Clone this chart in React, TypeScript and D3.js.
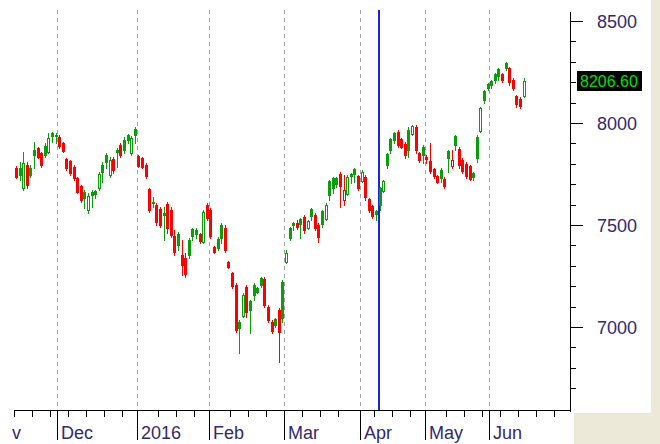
import React from "react";
import * as d3 from "d3";

const W = 660;
const H = 444;

// time axis: label of each month and the session slot where it begins
const monthLabels = ["Nov", "Dec", "2016", "Feb", "Mar", "Apr", "May", "Jun"];
const monthStart = [-8, 12, 34, 54, 75, 96, 114, 132];

// daily sessions (one row per month)
const opens = [
  7780, 7780, 7682, 7794, 7780, 7868, 7878, 7853, 7888, 7858, 7951, 7937,
  7932, 7902, 7824, 7814, 7785, 7731, 7692, 7662, 7574, 7662, 7667, 7682, 7794, 7843, 7745, 7824, 7868, 7892, 7917, 7941, 7853, 7971,
  7839, 7829, 7794, 7677, 7608, 7598, 7579, 7559, 7603, 7574, 7447, 7456, 7353, 7339, 7427, 7481, 7476, 7456, 7417, 7598,
  7574, 7393, 7432, 7500, 7486, 7319, 7265, 7206, 7025, 7055, 7197, 7128, 7206, 7192, 7241, 7236, 7099, 7025, 7040, 7084, 7221,
  7319, 7486, 7510, 7510, 7530, 7540, 7486, 7579, 7549, 7500, 7569, 7530, 7716, 7731, 7731, 7750, 7623, 7652, 7750, 7775, 7741,
  7716, 7736, 7628, 7594, 7569, 7682, 7667, 7848, 7922, 7951, 7956, 7922, 7897, 7966, 7946, 7981, 7853, 7883,
  7834, 7814, 7775, 7741, 7770, 7726, 7863, 7790, 7937, 7873, 7819, 7799, 7790, 7755, 7932, 7961, 8157, 8191,
  8206, 8240, 8265, 8240, 8294, 8270, 8211, 8133, 8118, 8133,
];
const highs = [
  7790, 7809, 7858, 7809, 7794, 7907, 7883, 7858, 7902, 7951, 7956, 7951,
  7941, 7907, 7829, 7819, 7794, 7736, 7697, 7672, 7657, 7672, 7672, 7760, 7809, 7853, 7834, 7834, 7878, 7902, 7932, 7946, 7937, 7981,
  7843, 7834, 7804, 7682, 7638, 7608, 7589, 7589, 7613, 7589, 7476, 7466, 7427, 7363, 7437, 7486, 7486, 7461, 7574, 7608,
  7584, 7398, 7442, 7510, 7500, 7324, 7270, 7216, 7035, 7167, 7206, 7133, 7216, 7197, 7246, 7246, 7108, 7035, 7045, 7094, 7231,
  7378, 7491, 7515, 7525, 7535, 7549, 7525, 7584, 7559, 7510, 7574, 7608, 7721, 7736, 7736, 7760, 7745, 7745, 7755, 7780, 7745,
  7770, 7745, 7633, 7598, 7574, 7687, 7721, 7853, 7927, 7956, 7966, 7927, 7907, 7981, 7991, 7991, 7858, 7892,
  7843, 7902, 7780, 7745, 7780, 7736, 7868, 7868, 7941, 7883, 7829, 7809, 7794, 7760, 7941, 8079, 8162, 8196,
  8211, 8245, 8270, 8245, 8299, 8275, 8221, 8138, 8128, 8221,
];
const lows = [
  7731, 7721, 7672, 7682, 7736, 7780, 7829, 7785, 7834, 7853, 7907, 7902,
  7878, 7858, 7770, 7745, 7721, 7657, 7613, 7584, 7559, 7589, 7633, 7672, 7711, 7780, 7736, 7755, 7785, 7834, 7853, 7902, 7843, 7902,
  7785, 7780, 7731, 7564, 7589, 7500, 7491, 7427, 7461, 7442, 7353, 7378, 7255, 7246, 7339, 7427, 7437, 7412, 7412, 7525,
  7437, 7363, 7378, 7412, 7368, 7290, 7192, 6976, 6873, 7050, 7050, 6971, 7133, 7167, 7197, 7099, 7025, 6971, 7001, 6829, 7025,
  7314, 7427, 7476, 7481, 7437, 7461, 7481, 7525, 7476, 7417, 7491, 7525, 7623, 7657, 7687, 7589, 7598, 7648, 7706, 7711, 7672,
  7711, 7623, 7564, 7535, 7525, 7574, 7662, 7780, 7853, 7902, 7883, 7878, 7829, 7834, 7941, 7853, 7809, 7804,
  7804, 7755, 7731, 7706, 7711, 7682, 7760, 7780, 7868, 7780, 7755, 7731, 7721, 7721, 7809, 7956, 8098, 8162,
  8172, 8196, 8211, 8201, 8260, 8186, 8162, 8079, 8074, 8128,
];
const closes = [
  7736, 7745, 7804, 7697, 7745, 7843, 7834, 7794, 7843, 7927, 7937, 7941,
  7888, 7863, 7780, 7755, 7731, 7662, 7623, 7633, 7643, 7648, 7652, 7750, 7760, 7809, 7819, 7770, 7858, 7843, 7868, 7917, 7927, 7941,
  7790, 7785, 7741, 7574, 7613, 7515, 7500, 7549, 7486, 7451, 7368, 7403, 7305, 7260, 7353, 7447, 7456, 7422, 7564, 7535,
  7447, 7368, 7388, 7437, 7378, 7295, 7201, 6986, 6996, 7157, 7074, 7084, 7157, 7172, 7206, 7108, 7035, 6981, 7010, 6976, 7045,
  7363, 7437, 7500, 7491, 7505, 7476, 7520, 7545, 7486, 7442, 7505, 7598, 7648, 7682, 7702, 7692, 7672, 7736, 7741, 7750, 7682,
  7760, 7638, 7574, 7545, 7554, 7598, 7716, 7794, 7868, 7917, 7892, 7883, 7843, 7868, 7986, 7868, 7819, 7843,
  7824, 7765, 7741, 7711, 7731, 7692, 7829, 7819, 7892, 7794, 7765, 7741, 7726, 7736, 7829, 8074, 8113, 8172,
  8186, 8211, 8231, 8211, 8270, 8201, 8172, 8093, 8084, 8206.6,
];

const priceLabels = [7000, 7500, 8000, 8500];
const cursorSession = 101;

const GREEN = "#0a9e0a";
const RED = "#ff0000";
const TEXT = "#33296e";
const FONT = "'Liberation Sans', Arial, sans-serif";

export default function App() {
  const n = closes.length;
  const axisX = 570;
  const axisY = 410;
  const leftEdge = 12;

  const x = d3.scaleLinear().domain([0, n - 1]).range([16, 16 + (n - 1) * 3.6]);
  const y = d3.scaleLinear().domain([7000, 8500]).range([327, 21]);

  const minorPrice = d3.range(6700, 8501, 100);
  const weekTicks = d3
    .range(-10, 160)
    .filter((i) => i % 5 === 0 && monthStart.every((m) => Math.abs(m - i) > 1))
    .map((i) => Math.round(x(i - 0.5)))
    .filter((px) => px > leftEdge && px < axisX);
  const monthX = monthStart.map((m) => Math.round(x(m - 0.5)));

  const last = closes[n - 1];
  const lastY = Math.round(y(last));
  const cursorX = Math.floor(x(cursorSession));

  const candles = closes.map((c, i) => {
    const o = opens[i];
    const prev = i > 0 ? closes[i - 1] : o;
    const col = c >= prev ? GREEN : RED;
    const cx = Math.round(x(i));
    const top = Math.round(y(Math.max(o, c)));
    const bot = Math.round(y(Math.min(o, c)));
    const hi = Math.round(y(highs[i]));
    const lo = Math.round(y(lows[i]));
    const hollow = c > o && bot - top >= 3;
    return (
      <g key={i}>
        {hi < top && <line x1={cx + 0.5} x2={cx + 0.5} y1={hi} y2={top} stroke={col} />}
        {lo > bot && <line x1={cx + 0.5} x2={cx + 0.5} y1={bot + 1} y2={lo + 1} stroke={col} />}
        {hollow ? (
          <rect x={cx - 0.5} y={top + 0.5} width={2} height={bot - top} fill="#fff" stroke={col} />
        ) : (
          <rect x={cx - 1} y={top} width={3} height={bot - top + 1} fill={col} />
        )}
      </g>
    );
  });

  return (
    <svg
      width={W}
      height={H}
      style={{ position: "fixed", left: 0, top: 0, display: "block", background: "#fff" }}
      shapeRendering="crispEdges"
    >
      <defs>
        <clipPath id="chartClip">
          <rect x={leftEdge} y={0} width={W - leftEdge} height={H} />
        </clipPath>
      </defs>
      <rect x={651} y={0} width={W - 651} height={H} fill="#ece9d8" />
      <rect x={axisX + 4} y={axisY + 3} width={W - axisX - 4} height={H - axisY - 3} fill="#ece9d8" />

      <g clipPath="url(#chartClip)">
        {monthX.map((px, k) => (
          <line key={"g" + k} x1={px + 0.5} x2={px + 0.5} y1={10} y2={axisY} stroke="#a0a0a0" strokeDasharray="4,4" />
        ))}

        <line x1={cursorX} x2={cursorX} y1={10} y2={axisY} stroke="#1f1fe6" strokeWidth={2} />

        {candles}

        {/* price axis */}
        <line x1={axisX + 0.5} x2={axisX + 0.5} y1={12} y2={axisY + 2} stroke="#000" />
        {minorPrice.map((v) => {
          const major = v % 500 === 0;
          const py = Math.round(y(v)) + 0.5;
          return <line key={"p" + v} x1={axisX} x2={axisX + (major ? 13 : 6)} y1={py} y2={py} stroke="#000" />;
        })}
        {priceLabels.map((v) => (
          <text key={"l" + v} x={597} y={Math.round(y(v)) + 7} fontFamily={FONT} fontSize={18} fill={TEXT}>
            {v}
          </text>
        ))}
        <rect x={577} y={lastY - 10} width={65} height={20} fill="#000" />
        <text x={580} y={lastY + 6} fontFamily={FONT} fontSize={16} fill="#00e000">
          {last.toFixed(2)}
        </text>

        {/* time axis */}
        <line x1={leftEdge + 2} x2={axisX + 1} y1={axisY + 0.5} y2={axisY + 0.5} stroke="#000" />
        {weekTicks.map((px, k) => (
          <line key={"w" + k} x1={px + 0.5} x2={px + 0.5} y1={axisY} y2={axisY + 7} stroke="#000" />
        ))}
        {monthX.map((px, k) => (
          <g key={"m" + k}>
            <line x1={px + 0.5} x2={px + 0.5} y1={axisY} y2={axisY + 30} stroke="#000" />
            <text x={px + 4} y={axisY + 29} fontFamily={FONT} fontSize={18} fill={TEXT}>
              {monthLabels[k]}
            </text>
          </g>
        ))}
      </g>
    </svg>
  );
}
